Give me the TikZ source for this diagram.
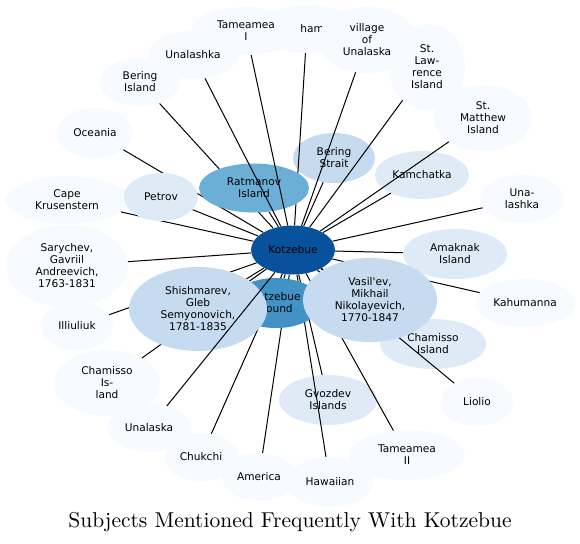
\documentclass[tikz,border=0pt]{standalone}
\usepackage{fontspec}
\usepackage{xcolor}
\usepackage{tikz}
\usetikzlibrary{shapes}
\newfontfamily\labelfont{DejaVu Sans}
\newfontfamily\titlefont{lmroman10-regular.otf}
\definecolor{tone0}{HTML}{F7FBFF}
\definecolor{tone1}{HTML}{DEEBF7}
\definecolor{tone2}{HTML}{C6DBEF}
\definecolor{tone3}{HTML}{6BAED6}
\definecolor{tone4}{HTML}{4292C6}
\definecolor{tone5}{HTML}{08519C}
\pgfdeclarelayer{outer}
\pgfdeclarelayer{lowlinks}
\pgfdeclarelayer{inner}
\pgfdeclarelayer{toplinks}
\pgfsetlayers{outer,lowlinks,inner,toplinks,main}

\begin{document}
\begin{tikzpicture}[
	x=1pt, y=-1pt,
	subj/.style={ellipse, inner sep=0pt, align=center,
		font=\labelfont\fontsize{10.6}{12}\selectfont},
	sz/.style 2 args={minimum width=#1, minimum height=#2},
	link/.style={line width=1pt}
	]
	\useasboundingbox (0,0) rectangle (580,543);
	% centre
	\node[subj, fill=tone5, sz={84}{49}] (kotz) at (293,250) {Kotzebue};
	
	\begin{pgfonlayer}{outer}
		\node[subj, fill=tone0, sz={104}{48}] (kam) at (307,29) {Kamehameha};
		\node[subj, fill=tone0, sz={110}{48}] (tamI) at (246,31) {Tameamea\\I};
		\node[subj, fill=tone0, sz={98}{66}] (vilU) at (367,40) {village\\of\\Unalaska};
		\node[subj, fill=tone0, sz={90}{48}] (unalT) at (193,55) {Unalashka};
		\node[subj, fill=tone0, sz={80}{49}] (berI) at (140,82) {Bering\\Island};
		\node[subj, fill=tone0, sz={76}{86}] (stL) at (427,67) {St.\\Law-\\rence\\Island};
		\node[subj, fill=tone0, sz={98}{66}] (stM) at (483,118) {St.\\Matthew\\Island};
		\node[subj, fill=tone0, sz={76}{50}] (ocea) at (95,133) {Oceania};
		\node[subj, fill=tone0, sz={124}{48}] (cape) at (67,200) {Cape\\Krusenstern};
		\node[subj, fill=tone0, sz={122}{82}] (sary) at (67,266) {Sarychev,\\Gavriil\\Andreevich,\\1763-1831};
		\node[subj, fill=tone0, sz={72}{48}] (illi) at (77,326) {Illiuliuk};
		\node[subj, fill=tone0, sz={106}{66}] (chamL) at (107,383) {Chamisso\\Is-\\land};
		\node[subj, fill=tone0, sz={84}{48}] (unalB) at (149,428) {Unalaska};
		\node[subj, fill=tone0, sz={74}{48}] (chuk) at (201,457) {Chukchi};
		\node[subj, fill=tone0, sz={74}{48}] (amer) at (259,477) {America};
		\node[subj, fill=tone0, sz={86}{50}] (hawa) at (330,482) {Hawaiian};
		\node[subj, fill=tone0, sz={116}{50}] (tamII) at (407,455) {Tameamea\\II};
		\node[subj, fill=tone0, sz={72}{48}] (liol) at (477,402) {Liolio};
		\node[subj, fill=tone0, sz={100}{48}] (kahu) at (525,303) {Kahumanna};
		\node[subj, fill=tone0, sz={84}{48}] (unaR) at (522,199) {Una-\\lashka};
		\node[subj, fill=tone1, sz={94}{48}] (kamc) at (422,175) {Kamchatka};
		\node[subj, fill=tone2, sz={82}{50}] (strait) at (334,158) {Bering\\Strait};
		\node[subj, fill=tone1, sz={104}{50}] (amak) at (455,254) {Amaknak\\Island};
		\node[subj, fill=tone1, sz={106}{50}] (chamR) at (433,344) {Chamisso\\Island};
		\node[subj, fill=tone1, sz={98}{50}] (gvoz) at (328,400) {Gvozdev\\Islands};
	\end{pgfonlayer}
	
	\begin{pgfonlayer}{inner}
		\node[subj, fill=tone3, sz={110}{49}] (ratm) at (254,188) {Ratmanov\\Island};
		\node[subj, fill=tone1, sz={74}{48}] (petr) at (161,197) {Petrov};
		\node[subj, fill=tone4, sz={90}{50}] (ksnd) at (276,303) {Kotzebue\\Sound};
		\node[subj, fill=tone2, sz={138}{84}] (shis) at (198,309) {Shishmarev,\\Gleb\\Semyonovich,\\1781-1835};
		\node[subj, fill=tone2, sz={134}{84}] (vasi) at (370,300) {Vasil'ev,\\Mikhail\\Nikolayevich,\\1770-1847};
	\end{pgfonlayer}
	
	\begin{pgfonlayer}{lowlinks}
		\foreach \n in {kam, vilU, berI, stL, stM, ocea, cape, sary, illi, chamL,
			chuk, amer, hawa, tamII, liol, kahu, unaR, kamc, strait, amak, chamR,
			gvoz, ratm, petr, ksnd, shis, vasi}
		\draw[link] (kotz) -- (\n);
	\end{pgfonlayer}
	
	\begin{pgfonlayer}{toplinks}
		\foreach \n in {unalT, tamI, unalB}
		\draw[link] (kotz) -- (\n);
	\end{pgfonlayer}
	
	\node[font=\titlefont\fontsize{21.5}{26}\selectfont] (title) at (290,522)
	{Subjects Mentioned Frequently With Kotzebue};
\end{tikzpicture}
\end{document}
